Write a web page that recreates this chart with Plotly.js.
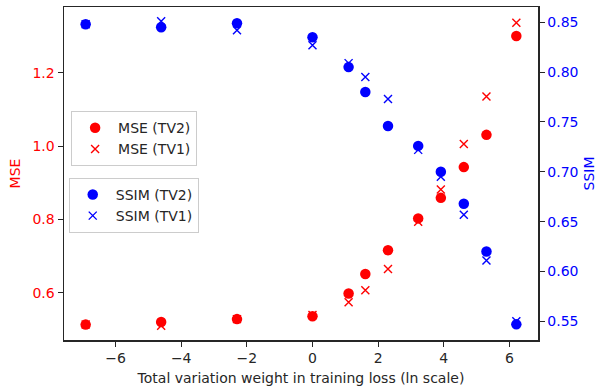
<!DOCTYPE html>
<html>
<head>
<meta charset="utf-8">
<script src="https://cdn.plot.ly/plotly-3.0.1.min.js"></script>
<style>html,body{margin:0;padding:0;background:#fff;}#chart{width:599px;height:388px;}</style>
</head>
<body>
<div id="chart"></div>
<script>
// ln(total variation weight)
const lnWeight = [-6.91, -4.61, -2.30, 0.00, 1.10, 1.61, 2.30, 3.22, 3.91, 4.61, 5.30, 6.21];
const mseTV2  = [0.513, 0.520, 0.528, 0.536, 0.598, 0.651, 0.716, 0.803, 0.859, 0.943, 1.031, 1.301];
const mseTV1  = [0.513, 0.510, 0.528, 0.539, 0.574, 0.607, 0.665, 0.794, 0.882, 1.006, 1.136, 1.337];
const ssimTV2 = [0.848, 0.845, 0.849, 0.835, 0.805, 0.780, 0.746, 0.726, 0.700, 0.668, 0.620, 0.547];
const ssimTV1 = [0.848, 0.851, 0.842, 0.827, 0.809, 0.795, 0.773, 0.722, 0.695, 0.657, 0.611, 0.550];
const xTickVals = [-6, -4, -2, 0, 2, 4, 6];
const xTickText = ['\u22126', '\u22124', '\u22122', '0', '2', '4', '6'];
const mseTicks = [0.6, 0.8, 1.0, 1.2];
const ssimTicks = [0.55, 0.60, 0.65, 0.70, 0.75, 0.80, 0.85];

const RED = '#ff0000', BLUE = '#0000ff', INK = '#262626';
const FONT = 'DejaVu Sans, sans-serif';

const circ = c => ({symbol: 'circle', size: 10.5, color: c, line: {width: 0}});
const cross = c => ({symbol: 'x-thin', size: 8, color: c, line: {width: 1.4, color: c}});

const traces = [
  {x: lnWeight, y: mseTV2, name: 'MSE (TV2)', mode: 'markers', marker: circ(RED), yaxis: 'y', legend: 'legend'},
  {x: lnWeight, y: mseTV1, name: 'MSE (TV1)', mode: 'markers', marker: cross(RED), yaxis: 'y', legend: 'legend'},
  {x: lnWeight, y: ssimTV2, name: 'SSIM (TV2)', mode: 'markers', marker: circ(BLUE), yaxis: 'y2', legend: 'legend2'},
  {x: lnWeight, y: ssimTV1, name: 'SSIM (TV1)', mode: 'markers', marker: cross(BLUE), yaxis: 'y2', legend: 'legend2'}
];

const legendBase = {
  bgcolor: 'rgba(255,255,255,0.8)', bordercolor: '#cccccc', borderwidth: 1,
  font: {family: FONT, size: 14, color: INK}, traceorder: 'normal',
  xanchor: 'left', yanchor: 'top', tracegroupgap: 0, itemwidth: 36
};

const layout = {
  width: 599, height: 388,
  margin: {l: 64, r: 61, t: 7, b: 48, pad: 0},
  paper_bgcolor: '#ffffff', plot_bgcolor: '#ffffff',
  font: {family: FONT, size: 14, color: INK},
  showlegend: true,
  legend: Object.assign({}, legendBase, {x: 0.015, y: 0.687}),
  legend2: Object.assign({}, legendBase, {x: 0.010, y: 0.487}),
  xaxis: {
    range: [-7.57, 6.87], tickvals: xTickVals, ticktext: xTickText,
    ticks: 'outside', ticklen: 5, tickwidth: 1, tickcolor: INK,
    showline: true, linecolor: INK, linewidth: 1.5, mirror: true,
    showgrid: false, zeroline: false,
    tickfont: {family: FONT, size: 14, color: INK},
    title: {text: 'Total variation weight in training loss (ln scale)', font: {family: FONT, size: 14, color: INK}, standoff: 8}
  },
  yaxis: {
    range: [0.471, 1.38], tickvals: mseTicks, tickformat: '.1f',
    ticks: 'outside', ticklen: 5, tickwidth: 1, tickcolor: INK,
    showline: true, linecolor: INK, linewidth: 1.5,
    showgrid: false, zeroline: false,
    tickfont: {family: FONT, size: 14, color: RED},
    title: {text: 'MSE', font: {family: FONT, size: 14, color: RED}, standoff: 8}
  },
  yaxis2: {
    range: [0.5313, 0.8653], tickvals: ssimTicks, tickformat: '.2f',
    overlaying: 'y', side: 'right',
    ticks: 'outside', ticklen: 5, tickwidth: 1, tickcolor: INK,
    showline: true, linecolor: INK, linewidth: 1.5,
    showgrid: false, zeroline: false,
    tickfont: {family: FONT, size: 14, color: BLUE},
    title: {text: 'SSIM', font: {family: FONT, size: 14, color: BLUE}, standoff: 6}
  }
};

Plotly.newPlot('chart', traces, layout, {displayModeBar: false, staticPlot: true});
</script>
</body>
</html>
